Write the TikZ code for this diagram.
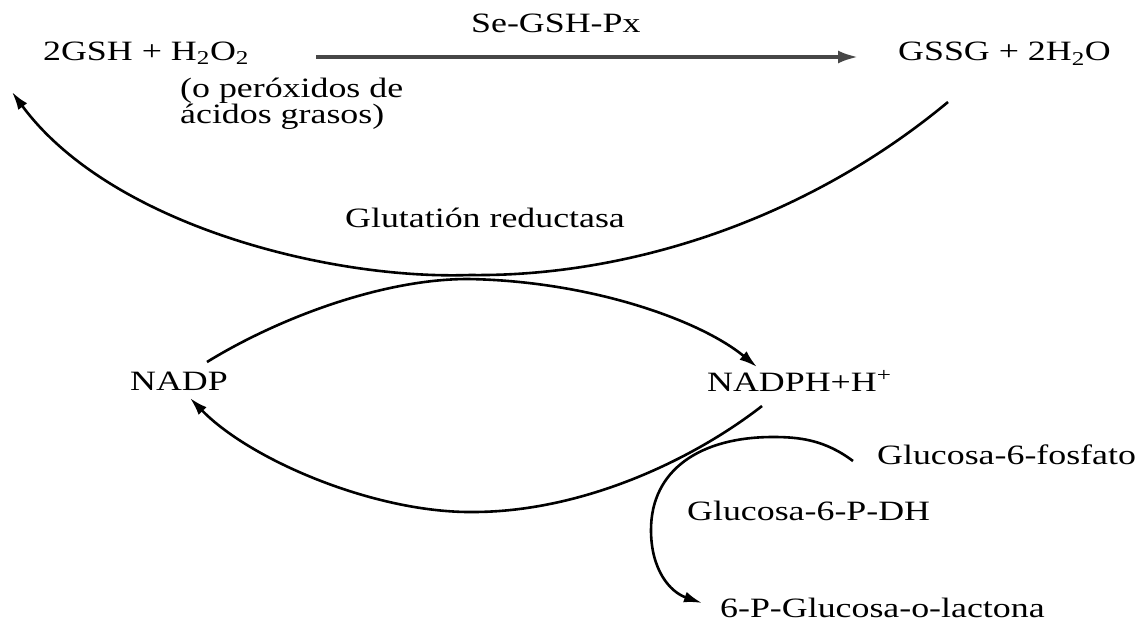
\documentclass[tikz,border=0pt]{standalone}
\usepackage{fontspec}
\setmainfont{Liberation Serif}
\usetikzlibrary{arrows.meta}
\newcommand{\wx}[1]{\scalebox{1.28}[1]{#1}}
\tikzset{
  lbl/.style={anchor=base west, inner sep=0pt, font=\fontsize{28}{30}\selectfont},
  conn/.style={line width=2.6pt, -{Latex[length=18pt,width=11pt]}},
  main/.style={line width=3.4pt, black!72, -{Latex[length=20pt,width=13pt]}},
}
\begin{document}
\begin{tikzpicture}[x=1pt,y=1pt]
\useasboundingbox (0,0) rectangle (1140,-626);
% texts
\node[lbl] (gsh) at (43,-60) {\wx{2GSH + H\textsubscript{2}O\textsubscript{2}}};
\node[lbl] (px) at (471,-33) {\wx{Se-GSH-Px}};
\node[lbl] (gssg) at (898,-61) {\wx{GSSG + 2H\textsubscript{2}O}};
\node[lbl] (perA) at (180,-97) {\wx{(o peróxidos de}};
\node[lbl] (perB) at (180,-123) {\wx{ácidos grasos)}};
\node[lbl] (gr) at (345,-227) {\wx{Glutatión reductasa}};
\node[lbl] (nadp) at (130,-390) {\wx{NADP}};
\node[lbl] (nadph) at (707,-391) {\wx{NADPH+H\textsuperscript{+}}};
\node[lbl] (g6p) at (877,-464) {\wx{Glucosa-6-fosfato}};
\node[lbl] (g6pdh) at (687,-520) {\wx{Glucosa-6-P-DH}};
\node[lbl] (lact) at (720,-617) {\wx{6-P-Glucosa-o-lactona}};
% end points
\coordinate (hA) at (316,-57);
\coordinate (hB) at (858,-57);
\coordinate (uA) at (948,-102);
\coordinate (uM) at (470,-275);
\coordinate (uB) at (12,-92);
\coordinate (lA) at (207,-362);
\coordinate (lM) at (468,-279);
\coordinate (lB) at (757,-367);
\coordinate (rA) at (762,-406);
\coordinate (rM) at (473,-512);
\coordinate (rB) at (190,-398);
\coordinate (gA) at (853,-461);
\coordinate (gM) at (773,-437);
\coordinate (gL) at (651,-530);
\coordinate (gB) at (702,-603);
% connectors
\draw[main] (hA) -- (hB);
\draw[conn] (uA) .. controls (800,-225) and (620,-277) .. (uM)
               .. controls (330,-280) and (110,-225) .. (uB);
\draw[conn] (lA) .. controls (275,-320) and (380,-279) .. (lM)
               .. controls (590,-281) and (700,-320) .. (lB);
\draw[conn] (rA) .. controls (690,-462) and (580,-512) .. (rM)
               .. controls (375,-513) and (250,-460) .. (rB);
\draw[conn] (gA) .. controls (825,-440) and (800,-437) .. (gM)
               .. controls (700,-437) and (651,-470) .. (gL)
               .. controls (651,-570) and (670,-592) .. (gB);
\end{tikzpicture}
\end{document}
